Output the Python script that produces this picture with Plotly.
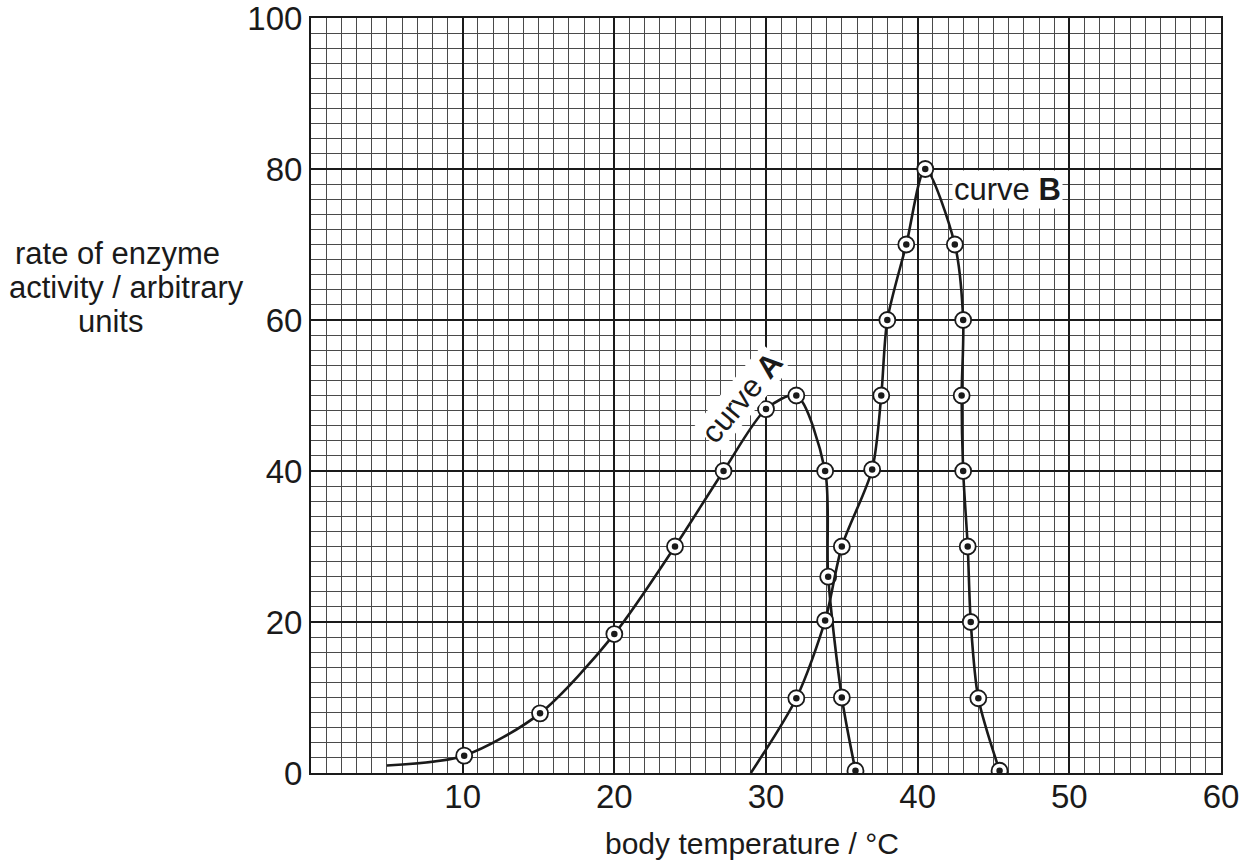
import plotly.graph_objects as go

# ---- data ----
curve_a_line_x = [5, 10.1, 15.1, 20, 24, 27.2, 30, 32, 33.9, 34.1, 35, 35.9]
curve_a_line_y = [1.0, 2.3, 7.9, 18.4, 30, 40, 48.2, 50, 40, 26, 10, 0.3]
curve_a_pts_x = [10.1, 15.1, 20, 24, 27.2, 30, 32, 33.9, 34.1, 35, 35.9]
curve_a_pts_y = [2.3, 7.9, 18.4, 30, 40, 48.2, 50, 40, 26, 10, 0.3]

curve_b_line_x = [29, 32, 33.9, 35, 37, 37.6, 38, 39.25, 40.5, 42.45, 43.0, 42.9, 43.0, 43.3, 43.5, 44, 45.4]
curve_b_line_y = [0, 9.9, 20.2, 30, 40.2, 50, 60, 70, 80, 70, 60, 50, 40, 30, 20, 9.9, 0.3]
curve_b_pts_x = [32, 33.9, 35, 37, 37.6, 38, 39.25, 40.5, 42.45, 43.0, 42.9, 43.0, 43.3, 43.5, 44, 45.4]
curve_b_pts_y = [9.9, 20.2, 30, 40.2, 50, 60, 70, 80, 70, 60, 50, 40, 30, 20, 9.9, 0.3]

x_tick_vals = [10, 20, 30, 40, 50, 60]
y_tick_vals = [0, 20, 40, 60, 80, 100]

FONT = "Liberation Sans, Arial, sans-serif"
INK = "#1a1a1a"

fig = go.Figure()

for lx, ly, px, py in [
    (curve_a_line_x, curve_a_line_y, curve_a_pts_x, curve_a_pts_y),
    (curve_b_line_x, curve_b_line_y, curve_b_pts_x, curve_b_pts_y),
]:
    fig.add_trace(go.Scatter(x=lx, y=ly, mode="lines",
                             line=dict(color=INK, width=2.6, shape="spline", smoothing=0.8),
                             hoverinfo="skip", showlegend=False))
    fig.add_trace(go.Scatter(x=px, y=py, mode="markers",
                             marker=dict(size=16, color="white", symbol="circle",
                                         line=dict(color=INK, width=1.8)),
                             showlegend=False))
    fig.add_trace(go.Scatter(x=px, y=py, mode="markers",
                             marker=dict(size=6.5, color=INK, symbol="circle"),
                             showlegend=False))

fig.add_annotation(x=28.4, y=49.8, xref="x", yref="y", text="curve <b>A</b>",
                   showarrow=False, textangle=-50, bgcolor="white",
                   font=dict(size=31, color=INK, family=FONT), borderpad=0)
fig.add_annotation(x=45.9, y=77.3, xref="x", yref="y", text="curve <b>B</b>",
                   showarrow=False, bgcolor="white",
                   font=dict(size=31, color=INK, family=FONT), borderpad=1)

# y-axis title (three centred lines)
for txt, cx, cy in [("rate of enzyme", 117, 253), ("activity / arbitrary", 126, 287), ("units", 110, 321)]:
    fig.add_annotation(x=(cx - 311) / 910, y=(773 - cy) / 755, xref="paper", yref="paper",
                       text=txt, showarrow=False, xanchor="center", yanchor="middle",
                       font=dict(size=31, color=INK, family=FONT))

fig.add_annotation(x=(752 - 311) / 910, y=(773 - 843) / 755, xref="paper", yref="paper",
                   text="body temperature / °C", showarrow=False, xanchor="center", yanchor="middle",
                   font=dict(size=30, color=INK, family=FONT))

axis_common = dict(showgrid=True, gridcolor=INK, gridwidth=2,
                   showline=True, mirror=True, linecolor=INK, linewidth=2, zeroline=False,
                   ticks="", tickfont=dict(size=33, color=INK, family=FONT),
                   ticklabeloverflow="allow",
                   fixedrange=True, automargin=False)
fig.update_xaxes(range=[0, 60], tickvals=x_tick_vals, ticklabelstandoff=-7,
                 minor=dict(dtick=1, showgrid=True, gridcolor="#4a4a4a", gridwidth=1),
                 **axis_common)
fig.update_yaxes(range=[0, 100], tickvals=y_tick_vals,
                 minor=dict(dtick=2, showgrid=True, gridcolor="#4a4a4a", gridwidth=1),
                 **axis_common)

fig.update_layout(width=1246, height=865, margin=dict(l=311, r=25, t=18, b=92),
                  plot_bgcolor="white", paper_bgcolor="white", showlegend=False)

fig.write_html("out.html", config={"displayModeBar": False},
               post_script="document.body.style.margin='0px';")
